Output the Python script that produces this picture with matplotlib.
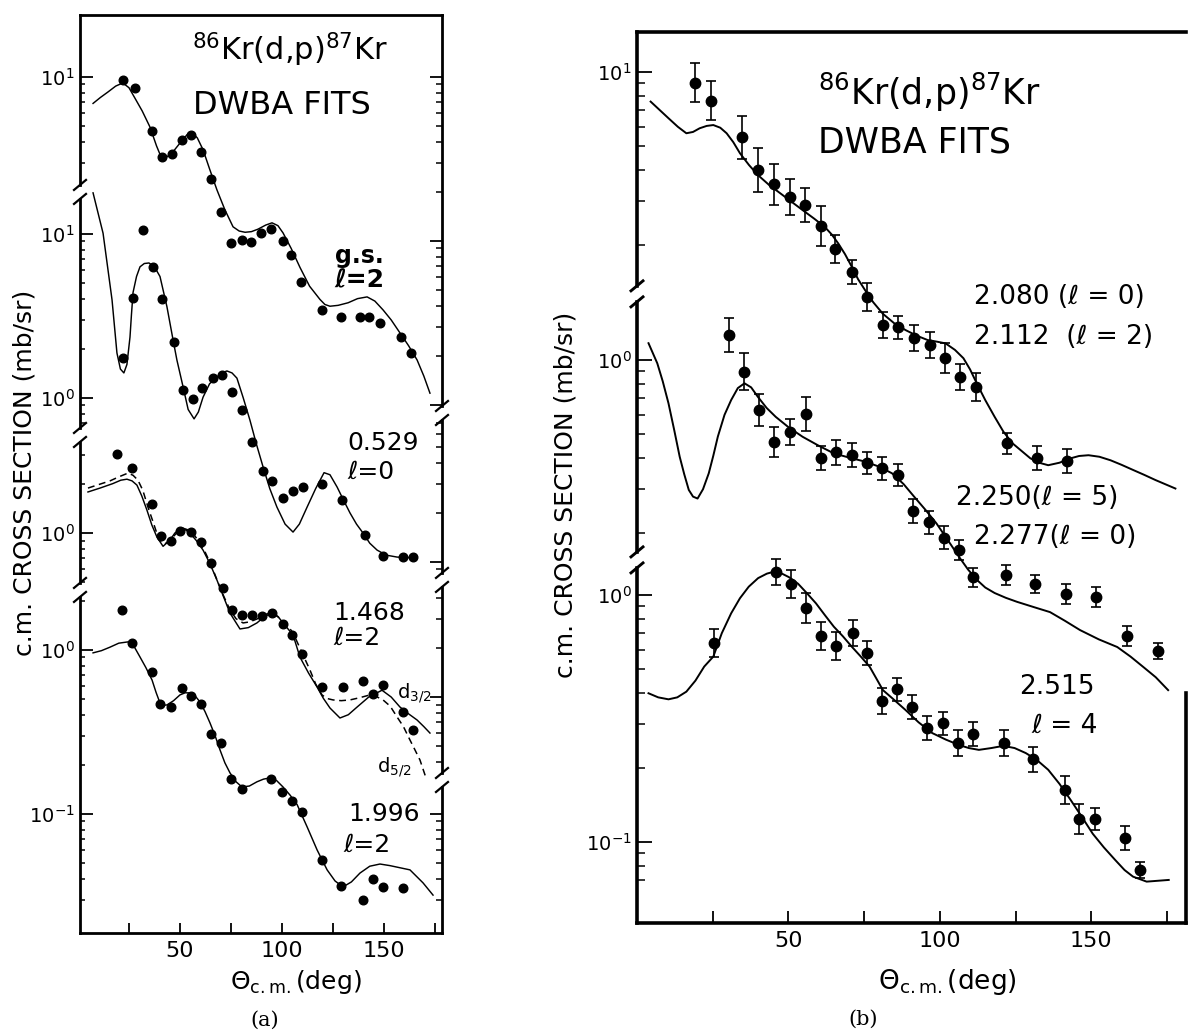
import numpy as np
import matplotlib.pyplot as plt
from matplotlib.ticker import NullFormatter

plt.rcParams['font.family'] = ['DejaVu Sans']
plt.rcParams['mathtext.fontset'] = 'dejavusans'


###------------- panel (a) data -------------###
# g.s. (l=2)
a_gs_ang = [22.1, 27.9, 36.3, 41.2, 46.1, 51.0, 55.4, 60.3, 65.2, 70.1, 75.0, 80.4, 84.8,
            89.7, 94.6, 100.5, 104.4, 109.3, 119.6, 128.9, 138.2, 142.6, 148.0, 158.3, 163.2]
a_gs_val = [9.6, 8.6, 4.7, 3.25, 3.4, 4.1, 4.4, 3.5, 2.4, 1.5, 0.97, 1.01, 0.99,
            1.12, 1.18, 1.0, 0.82, 0.56, 0.38, 0.344, 0.344, 0.344, 0.316, 0.26, 0.207]
a_gs_fit_ang = [7.4, 11, 14.7, 18.5, 22, 25, 28, 31.5, 35.3, 38.5, 41.2, 43.5, 46.6, 51,
                53.5, 55.9, 58.5, 61.3, 64.5, 68.1, 72, 76, 79, 81.9, 85, 88.2, 92, 95.1,
                98, 100.5, 104.5, 108.8, 113.5, 118.6, 121, 123.5, 127.5, 132.4, 137,
                141.7, 145.5, 149.5, 153.5, 157.8, 162, 166.2, 169.5, 172.5]
a_gs_fit_val = [6.9, 7.5, 8.1, 8.8, 9.2, 8.6, 7.4, 6.2, 4.95, 3.8, 3.15, 3.25, 3.5, 4.1,
                4.45, 4.6, 4.25, 3.6, 2.75, 2.05, 1.55, 1.22, 1.15, 1.13, 1.14, 1.18, 1.25,
                1.29, 1.24, 1.12, 0.9, 0.69, 0.53, 0.44, 0.41, 0.40, 0.405, 0.42, 0.445,
                0.456, 0.43, 0.38, 0.33, 0.275, 0.23, 0.188, 0.15, 0.118]

# 0.529 (l=0)
a_529_ang = [22.1, 27.0, 31.9, 36.8, 41.2, 47.1, 51.5, 56.4, 60.8, 66.2, 70.6, 75.5, 80.4,
             85.3, 90.7, 95.1, 100.5, 105.4, 110.3, 119.6, 129.4, 140.7, 149.5, 159.3, 164.2]
a_529_val = [1.75, 4.07, 10.6, 6.3, 4.0, 2.2, 1.12, 0.99, 1.15, 1.32, 1.38, 1.09, 0.845,
             0.54, 0.36, 0.31, 0.246, 0.27, 0.286, 0.30, 0.239, 0.146, 0.109, 0.107, 0.107]
a_529_fit_ang = [7.4, 12.3, 16.7, 19.1, 20.8, 22.5, 24, 25.5, 26.2, 27, 28.7, 30.4, 32.5,
                 34.8, 37.5, 40.2, 43.6, 46.6, 48.5, 51.5, 54, 56.9, 59, 61.3, 64.5, 68.1,
                 70.5, 73, 75.5, 77.9, 81, 84.3, 87.5, 90.7, 94, 97.5, 101.5, 105.4, 108.5,
                 112.3, 116.5, 120.6, 123.5, 127, 130, 133.3, 136.5, 139.7, 143, 146.6,
                 151, 156.4, 163.7]
a_529_fit_val = [17.8, 10.1, 3.96, 1.88, 1.5, 1.42, 1.6, 2.35, 3.2, 4.4, 5.5, 6.3, 6.6,
                 6.65, 6.3, 5.5, 3.6, 2.26, 1.7, 1.17, 0.85, 0.745, 0.82, 1.01, 1.22, 1.34,
                 1.42, 1.46, 1.42, 1.32, 1.0, 0.73, 0.52, 0.38, 0.28, 0.216, 0.17, 0.152,
                 0.17, 0.216, 0.28, 0.35, 0.34, 0.286, 0.24, 0.199, 0.17, 0.15, 0.13, 0.118,
                 0.11, 0.107, 0.106]

# 1.468 (l=2), solid d3/2 and dashed d5/2
a_1468_ang = [19.1, 26.5, 36.3, 40.7, 45.6, 50.0, 55.4, 60.3, 65.2, 71.1, 75.5, 80.4, 85.3,
              90.2, 95.1, 100.5, 104.9, 109.8, 119.6, 129.9, 139.7, 144.6, 149.5, 159.3, 164.2]
a_1468_val = [3.03, 2.49, 1.50, 0.96, 0.89, 1.03, 1.01, 0.88, 0.66, 0.46, 0.34, 0.316, 0.316,
              0.312, 0.325, 0.279, 0.239, 0.183, 0.115, 0.115, 0.125, 0.104, 0.118, 0.081, 0.063]
a_1468_d32_ang = [4.9, 10.8, 17, 21, 24, 26.5, 28.9, 31.3, 33.8, 36.2, 38.7, 41.7, 45.1,
                  47.5, 50, 52.5, 54.9, 58, 61.3, 64.7, 68.1, 71.3, 74.5, 79.4, 83.5, 87.7,
                  91.5, 95.1, 98, 100.5, 105.4, 108.8, 113, 117.2, 120.3, 123.5, 128.4,
                  132.5, 136.8, 142.5, 149, 153.5, 157.8, 162, 166.2, 169.5, 172.5]
a_1468_d32_val = [1.78, 1.88, 2.0, 2.1, 2.13, 2.08, 1.96, 1.68, 1.38, 1.12, 0.945, 0.83,
                  0.906, 1.0, 1.06, 1.05, 1.0, 0.9, 0.787, 0.65, 0.517, 0.41, 0.325, 0.26,
                  0.265, 0.283, 0.31, 0.325, 0.31, 0.283, 0.239, 0.175, 0.14, 0.115, 0.098,
                  0.0857, 0.0745, 0.078, 0.0869, 0.1, 0.110, 0.1, 0.0869, 0.079, 0.0724,
                  0.066, 0.0603]
a_1468_d52_ang = [4.9, 15.7, 20, 24.5, 27, 29.4, 31.8, 34.3, 37, 39.7, 42.6, 46.1, 49,
                  51.5, 53.5, 55.9, 59, 62.3, 65.5, 68.6, 71.5, 74.5, 77.5, 80.9, 84, 87.7,
                  90.5, 94.1, 97, 100, 102.5, 105.4, 109.5, 113.7, 116.5, 119.6, 122, 125,
                  129, 133.3, 138, 143.1, 146, 149.5, 153, 156.4, 159.5, 162.7, 165, 167.6,
                  170.6]
a_1468_d52_val = [1.88, 2.08, 2.2, 2.32, 2.25, 2.1, 1.82, 1.44, 1.15, 0.91, 0.857, 0.933,
                  1.02, 1.07, 1.05, 1.01, 0.9, 0.766, 0.63, 0.50, 0.41, 0.34, 0.3, 0.283,
                  0.287, 0.299, 0.315, 0.325, 0.315, 0.295, 0.275, 0.246, 0.19, 0.146, 0.12,
                  0.103, 0.098, 0.096, 0.095, 0.096, 0.099, 0.103, 0.101, 0.096, 0.088,
                  0.0755, 0.066, 0.0547, 0.048, 0.0413, 0.032]

# 1.996 (l=2)
a_1996_ang = [21.6, 26.5, 36.3, 40.2, 45.6, 51.0, 55.4, 60.3, 65.2, 70.1, 75.0, 80.4, 94.6,
              100.0, 104.9, 109.8, 119.6, 128.9, 139.7, 144.6, 149.5, 159.3]
a_1996_val = [1.75, 1.10, 0.734, 0.469, 0.449, 0.586, 0.525, 0.469, 0.307, 0.271, 0.163, 0.142,
              0.163, 0.136, 0.12, 0.103, 0.0525, 0.0364, 0.0299, 0.0402, 0.0359, 0.0354]
a_1996_fit_ang = [7.4, 11.5, 15.7, 20, 24.5, 27.5, 30.4, 33.3, 36.3, 38.3, 40.2, 41.9, 43.6,
                  46.8, 50, 52.5, 54.9, 57.4, 59.8, 62.3, 64.7, 67.2, 69.6, 72, 74.5, 77.5,
                  80.4, 84, 87.7, 90.9, 94.1, 97.3, 100.5, 104, 107.4, 112.3, 117.2, 122.1,
                  126, 129.9, 134, 138.2, 143, 148, 152.9, 162.7, 169.1, 174]
a_1996_fit_val = [0.96, 0.99, 1.04, 1.1, 1.12, 1.05, 0.906, 0.78, 0.656, 0.55, 0.475, 0.46,
                  0.462, 0.49, 0.532, 0.548, 0.547, 0.525, 0.482, 0.42, 0.359, 0.3, 0.246,
                  0.205, 0.178, 0.157, 0.146, 0.148, 0.157, 0.163, 0.166, 0.16, 0.146, 0.13,
                  0.114, 0.0834, 0.0603, 0.0456, 0.039, 0.0359, 0.0385, 0.0436, 0.048,
                  0.0495, 0.0484, 0.0456, 0.038, 0.032]


###------------- panel (b) data -------------###
# 2.080 (l=0) + 2.112 (l=2)
b_1_ang = [19.3, 24.4, 34.8, 40.1, 45.2, 50.5, 55.4, 60.6, 65.4, 70.9, 76.0, 81.2, 86.1,
           91.5, 96.7, 101.6, 106.6, 111.8, 122.1, 132.1, 142.1]
b_1_val = [9.05, 7.66, 5.44, 4.01, 3.51, 3.12, 2.89, 2.38, 1.92, 1.55, 1.23, 0.946, 0.925,
           0.835, 0.785, 0.693, 0.584, 0.529, 0.314, 0.273, 0.266]
b_1_err = [1.20, 1.20, 1.22, 1.23, 1.21, 1.18, 1.17, 1.20, 1.14, 1.12, 1.14, 1.13, 1.11,
           1.13, 1.13, 1.15, 1.13, 1.14, 1.10, 1.12, 1.12]
b_1_fit_ang = [4.5, 10.4, 13.5, 16.3, 18.5, 20.7, 23, 25.2, 27.5, 29.6, 31.8, 34, 37, 39.9,
               43.5, 47.3, 54.7, 58.5, 62, 64.3, 66.5, 68.7, 70.9, 73, 75.3, 78, 81.2, 85,
               88.7, 92.5, 96, 99, 101.9, 105, 107.8, 110, 112.2, 115, 118.1, 121, 124,
               129.9, 132.8, 135.8, 139.5, 143.2, 146, 149.1, 152.7, 156.4, 160, 163.8,
               167.5, 171.2, 177.8]
b_1_fit_val = [7.59, 6.5, 6.0, 5.65, 5.72, 5.92, 6.05, 6.1, 5.95, 5.65, 5.2, 4.69, 4.2,
               3.83, 3.5, 3.23, 2.76, 2.55, 2.36, 2.2, 2.02, 1.83, 1.63, 1.45, 1.31, 1.17,
               1.05, 0.96, 0.902, 0.855, 0.822, 0.81, 0.797, 0.75, 0.694, 0.625, 0.549,
               0.47, 0.402, 0.35, 0.314, 0.273, 0.262, 0.256, 0.262, 0.273, 0.279, 0.281,
               0.277, 0.268, 0.257, 0.245, 0.234, 0.223, 0.206]

# 2.250 (l=5) + 2.277 (l=0)
b_2_ang = [30.3, 35.2, 40.2, 45.4, 50.5, 55.7, 60.6, 65.7, 70.9, 76.0, 80.8, 86.1, 91.1,
           96.3, 101.4, 106.3, 111.0, 121.8, 131.3, 141.7, 151.6, 161.9, 172.2]
b_2_val = [1.26, 0.897, 0.628, 0.467, 0.513, 0.603, 0.40, 0.423, 0.412, 0.382, 0.364, 0.342,
           0.245, 0.22, 0.191, 0.17, 0.132, 0.135, 0.124, 0.113, 0.11, 0.0763, 0.0665]
b_2_err = [1.17, 1.19, 1.16, 1.15, 1.13, 1.17, 1.12, 1.12, 1.12, 1.11, 1.11, 1.11, 1.12,
           1.11, 1.11, 1.10, 1.09, 1.10, 1.09, 1.10, 1.10, 1.10, 1.08]
b_2_fit_ang = [3.8, 6.7, 8.5, 10.4, 12.3, 14.1, 15.6, 17.1, 18.5, 20, 21.8, 23.7, 25.2,
               26.7, 28.9, 31.1, 33.3, 35.5, 37.7, 39.9, 42.8, 45.8, 50, 54.7, 60, 65, 70,
               75.3, 80, 84.2, 88, 91.5, 95.2, 98.9, 102.6, 106.3, 109.3, 112.2, 115,
               118.1, 121.8, 125.5, 131, 136.4, 141.3, 146.3, 152.5, 158.6, 163, 167.2,
               171.3, 175.4]
b_2_fit_val = [1.17, 0.97, 0.82, 0.668, 0.52, 0.406, 0.345, 0.298, 0.28, 0.275, 0.3, 0.348,
               0.41, 0.49, 0.6, 0.689, 0.77, 0.805, 0.775, 0.71, 0.64, 0.589, 0.535, 0.489,
               0.45, 0.419, 0.403, 0.388, 0.37, 0.348, 0.315, 0.28, 0.248, 0.218, 0.187,
               0.16, 0.142, 0.129, 0.12, 0.114, 0.109, 0.105, 0.1, 0.0954, 0.088, 0.0807,
               0.074, 0.0689, 0.063, 0.0572, 0.052, 0.0461]

# 2.515 (l=4)
b_3_ang = [25.5, 45.8, 50.7, 55.7, 60.6, 65.7, 71.2, 76.0, 80.9, 85.9, 90.8, 95.7, 101.1,
           106.0, 111.0, 121.3, 130.9, 141.2, 146.1, 151.3, 161.3, 166.0]
b_3_val = [0.637, 1.24, 1.11, 0.883, 0.682, 0.622, 0.70, 0.581, 0.373, 0.415, 0.351, 0.29,
           0.302, 0.251, 0.274, 0.251, 0.216, 0.162, 0.124, 0.124, 0.104, 0.077]
b_3_err = [1.14, 1.13, 1.14, 1.15, 1.14, 1.14, 1.13, 1.12, 1.13, 1.11, 1.12, 1.12, 1.11,
           1.13, 1.12, 1.13, 1.12, 1.14, 1.15, 1.11, 1.12, 1.08]
b_3_fit_ang = [3.8, 7, 10.4, 13.3, 16.3, 19.3, 22.2, 25.2, 28, 31.1, 34, 36.9, 40, 42.9,
               45, 47.3, 50.2, 53.2, 56, 59.1, 62, 65, 68, 70.9, 73.8, 76.8, 79, 81.2,
               84.5, 88.7, 93, 97.5, 101.9, 106.3, 109.6, 112.9, 117, 121, 124.7, 128.4,
               132, 135.8, 139.5, 143.2, 146.8, 150.5, 154.2, 157.9, 161, 163.8, 168.3,
               175.6]
b_3_fit_val = [0.40, 0.385, 0.378, 0.385, 0.406, 0.45, 0.513, 0.563, 0.7, 0.843, 0.97,
               1.08, 1.17, 1.22, 1.24, 1.23, 1.18, 1.11, 1.02, 0.925, 0.83, 0.744, 0.68,
               0.618, 0.565, 0.513, 0.46, 0.412, 0.38, 0.342, 0.305, 0.276, 0.26, 0.247,
               0.24, 0.236, 0.24, 0.245, 0.24, 0.229, 0.215, 0.196, 0.172, 0.148, 0.127,
               0.108, 0.095, 0.0846, 0.077, 0.0724, 0.0691, 0.0702]


###------------- layout (vertical offsets in decades, breaks) -------------###
a_ylog = (-1.726, 3.872)
a_shift = {'gs': 2.494, '529': 1.537, '1468': 0.713, '1996': 0.0}
a_left_segs = [(-1.726, 0.366, 0.0, None, None), (0.366, 1.311, 0.713, None, None),
               (1.311, 2.793, 1.537, None, None), (2.793, 3.872, 2.494, None, 1.0)]
a_right_segs = [(-1.726, -0.793, 0.0, None, None), (-0.793, 0.427, 0.713, None, None),
                (0.427, 1.445, 1.537, None, None), (1.445, 3.872, 2.494, None, 1.0)]

b_ylog = (-1.328, 2.279)
b_shift = {'1': 1.117, '2': 0.951, '3': 0.0}
b_left_segs = [(-1.328, 0.142, 0.0, -1.155, None), (0.142, 1.219, 0.951, None, None),
               (1.219, 2.279, 1.117, None, 1.0)]


def seg_ticks(segs, margin=0.03, with_labels=True):
    major, minor, labels = [], [], []
    for lo, hi, sh, tmin, tmax in segs:
        for e in range(-3, 3):
            for m in range(1, 10):
                lt = np.log10(m) + e
                if tmin is not None and lt < tmin - 1e-6:
                    continue
                if tmax is not None and lt > tmax + 1e-6:
                    continue
                vv = lt + sh
                if lo + margin < vv < hi - margin:
                    if m == 1:
                        major.append(10 ** vv)
                        labels.append(r'$10^{%d}$' % e if with_labels else '')
                    else:
                        minor.append(10 ** vv)
    return major, minor, labels


def broken_spine(ax, xpos, ylog, segs, gap, dx, dy, lw):
    lo, hi = ylog
    fr = lambda v: (v - lo) / (hi - lo)
    bounds = [s[0] for s in segs] + [segs[-1][1]]
    n = len(segs)
    for i in range(n):
        y0 = fr(bounds[i]) + (gap if i > 0 else 0)
        y1 = fr(bounds[i + 1]) - (gap if i < n - 1 else 0)
        ax.plot([xpos, xpos], [y0, y1], transform=ax.transAxes, color='k', lw=lw,
                clip_on=False, solid_capstyle='projecting')
    for b in bounds[1:-1]:
        yb = fr(b)
        for yy in (yb - gap, yb + gap):
            ax.plot([xpos - dx, xpos + dx], [yy - dy, yy + dy], transform=ax.transAxes,
                    color='k', lw=lw * 0.8, clip_on=False)


def setup_axes(ax, xlim, ylog, lw, ticklen):
    ax.set_yscale('log')
    ax.set_xlim(*xlim)
    ax.set_ylim(10 ** ylog[0], 10 ** ylog[1])
    for s in ('left', 'right'):
        ax.spines[s].set_visible(False)
    for s in ('top', 'bottom'):
        ax.spines[s].set_linewidth(lw)
    ax.set_xticks([25, 50, 75, 100, 125, 150, 175],
                  labels=['', '50', '', '100', '', '150', ''])
    ax.tick_params(axis='x', direction='in', length=ticklen, width=1.3, labelsize=16, pad=6)
    ax.tick_params(axis='y', which='major', direction='in', length=ticklen + 2, width=1.3,
                   labelsize=14, pad=4)
    ax.tick_params(axis='y', which='minor', direction='in', length=ticklen * 0.55, width=1.1)
    ax.yaxis.set_minor_formatter(NullFormatter())
    ax.tick_params(axis='y', right=False)


fig = plt.figure(figsize=(11.88, 10.30), dpi=100)

###------------- panel (a) -------------###
axa = fig.add_axes([80 / 1188, 1 - 933 / 1030, 362 / 1188, 918 / 1030])
setup_axes(axa, (1.0, 178.4), a_ylog, 2.0, 7)
mj, mn, lb = seg_ticks(a_left_segs)
axa.set_yticks(mj, labels=lb)
axa.set_yticks(mn, minor=True)

axa_r = axa.twinx()
axa_r.set_yscale('log')
axa_r.set_ylim(axa.get_ylim())
for s in axa_r.spines.values():
    s.set_visible(False)
mj, mn, lb = seg_ticks(a_right_segs, with_labels=False)
axa_r.set_yticks(mj, labels=lb)
axa_r.set_yticks(mn, minor=True)
axa_r.yaxis.set_minor_formatter(NullFormatter())
axa_r.tick_params(axis='y', which='major', direction='in', length=9, width=1.3)
axa_r.tick_params(axis='y', which='minor', direction='in', length=4, width=1.1)

broken_spine(axa, 0.0, a_ylog, a_left_segs, 7 / 918, 6 / 362, 5 / 918, 2.0)
broken_spine(axa, 1.0, a_ylog, a_right_segs, 7 / 918, 6 / 362, 5 / 918, 2.0)

dot_a = dict(ls='none', marker='o', color='k', ms=6.2, zorder=3)
line_a = dict(color='k', lw=1.05)

for ang, val, fang, fval, key in [
        (a_gs_ang, a_gs_val, a_gs_fit_ang, a_gs_fit_val, 'gs'),
        (a_529_ang, a_529_val, a_529_fit_ang, a_529_fit_val, '529'),
        (a_1468_ang, a_1468_val, a_1468_d32_ang, a_1468_d32_val, '1468'),
        (a_1996_ang, a_1996_val, a_1996_fit_ang, a_1996_fit_val, '1996')]:
    f = 10 ** a_shift[key]
    axa.plot(fang, np.array(fval) * f, **line_a)
    axa.plot(ang, np.array(val) * f, **dot_a)
axa.plot(a_1468_d52_ang, np.array(a_1468_d52_val) * 10 ** a_shift['1468'],
         color='k', lw=1.1, dashes=(4.5, 3))

ta = axa.transAxes
axa.text(0.309, 0.951, r'$^{86}$Kr(d,p)$^{87}$Kr', transform=ta, fontsize=22,
         ha='left', va='baseline')
axa.text(0.312, 0.892, 'DWBA FITS', transform=ta, fontsize=23, ha='left', va='baseline')
axa.text(0.704, 0.737, 'g.s.', transform=ta, fontsize=17, fontweight='bold', va='center')
axa.text(0.704, 0.711, 'ℓ=2', transform=ta, fontsize=18, fontweight='bold', va='center')
axa.text(0.738, 0.534, '0.529', transform=ta, fontsize=18, va='center')
axa.text(0.740, 0.502, 'ℓ=0', transform=ta, fontsize=18, va='center')
axa.text(0.699, 0.349, '1.468', transform=ta, fontsize=18, va='center')
axa.text(0.699, 0.321, 'ℓ=2', transform=ta, fontsize=18, va='center')
axa.text(0.876, 0.261, r'd$_{3/2}$', transform=ta, fontsize=14, va='center')
axa.text(0.820, 0.181, r'd$_{5/2}$', transform=ta, fontsize=14, va='center')
axa.text(0.740, 0.130, '1.996', transform=ta, fontsize=18, va='center')
axa.text(0.727, 0.096, 'ℓ=2', transform=ta, fontsize=18, va='center')

###------------- panel (b) -------------###
axb = fig.add_axes([637 / 1188, 1 - 923 / 1030, 549 / 1188, 891 / 1030])
setup_axes(axb, (0.0, 181.3), b_ylog, 2.6, 9)
mj, mn, lb = seg_ticks(b_left_segs)
axb.set_yticks(mj, labels=lb)
axb.set_yticks(mn, minor=True)
axb.tick_params(axis='y', which='major', length=11)
axb.tick_params(axis='y', which='minor', length=6)
broken_spine(axb, 0.0, b_ylog, b_left_segs, 8 / 891, 6 / 549, 5 / 891, 2.6)
# right frame only survives on the lower part of the scan
axb.plot([1.0, 1.0], [0.0, 0.258], transform=axb.transAxes, color='k', lw=2.6,
         clip_on=False)

dot_b = dict(fmt='o', color='k', ms=7.5, elinewidth=1.2, capsize=3.5, capthick=1.2, zorder=3)
line_b = dict(color='k', lw=1.4)

for ang, val, err, fang, fval, key in [
        (b_1_ang, b_1_val, b_1_err, b_1_fit_ang, b_1_fit_val, '1'),
        (b_2_ang, b_2_val, b_2_err, b_2_fit_ang, b_2_fit_val, '2'),
        (b_3_ang, b_3_val, b_3_err, b_3_fit_ang, b_3_fit_val, '3')]:
    f = 10 ** b_shift[key]
    v = np.array(val) * f
    e = np.array(err)
    axb.plot(fang, np.array(fval) * f, **line_b)
    axb.errorbar(ang, v, yerr=[v - v / e, v * e - v], **dot_b)

tb = axb.transAxes
axb.text(0.330, 0.918, r'$^{86}$Kr(d,p)$^{87}$Kr', transform=tb, fontsize=25,
         ha='left', va='baseline')
axb.text(0.330, 0.865, 'DWBA FITS', transform=tb, fontsize=25, ha='left', va='baseline')
axb.text(0.614, 0.703, '2.080 (ℓ = 0)', transform=tb, fontsize=19, va='center')
axb.text(0.614, 0.658, '2.112  (ℓ = 2)', transform=tb, fontsize=19, va='center')
axb.text(0.581, 0.477, '2.250(ℓ = 5)', transform=tb, fontsize=19, va='center')
axb.text(0.614, 0.433, '2.277(ℓ = 0)', transform=tb, fontsize=19, va='center')
axb.text(0.696, 0.265, '2.515', transform=tb, fontsize=19, va='center')
axb.text(0.719, 0.221, 'ℓ = 4', transform=tb, fontsize=19, va='center')

###------------- axis titles -------------###
ylab = 'c.m. CROSS SECTION (mb/sr)'
fig.text(25 / 1188, 1 - 473 / 1030, ylab, rotation=90, ha='center', va='center', fontsize=18)
fig.text(566 / 1188, 1 - 495 / 1030, ylab, rotation=90, ha='center', va='center', fontsize=18)
xlab = r'$\Theta_{\rm c.m.}$(deg)'
fig.text(296 / 1188, 1 - 982 / 1030, xlab, ha='center', va='center', fontsize=18)
fig.text(947 / 1188, 1 - 982 / 1030, xlab, ha='center', va='center', fontsize=19)
fig.text(265 / 1188, 1 - 1020 / 1030, '(a)', ha='center', va='center', fontsize=15,
         family='DejaVu Serif')
fig.text(863 / 1188, 1 - 1019 / 1030, '(b)', ha='center', va='center', fontsize=15,
         family='DejaVu Serif')

fig.savefig('out.png', dpi=100)
